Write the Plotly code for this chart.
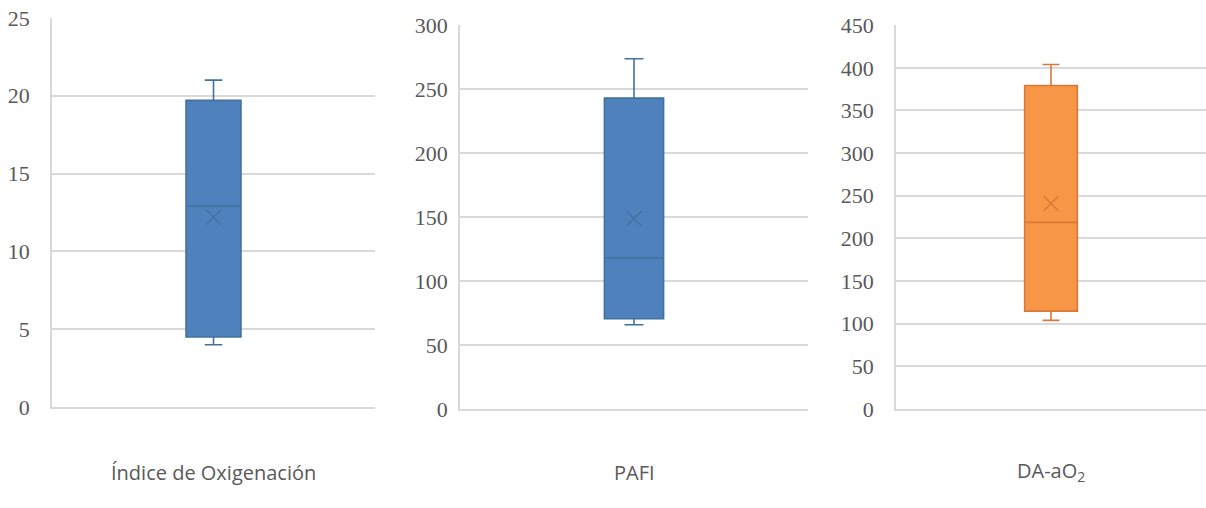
import plotly.graph_objects as go

# Data
categories = ["Índice de Oxigenación", "PAFI", "DA-aO<sub>2</sub>"]
q1 = [4.5, 70.8, 114.8]
median = [12.9, 118.4, 218.8]
q3 = [19.7, 243.2, 379.3]
lower = [4.0, 66.1, 103.9]
upper = [21.0, 274.0, 404.0]
means = [12.2, 149.2, 241.0]
y_max = [25, 300, 450]
y_dtick = [5, 50, 50]

fills = ["#4f81bd", "#4f81bd", "#f79646"]
edges = ["#41719c", "#41719c", "#d9773a"]

W, H = 1206, 508
# pixel layout of each panel: (x_left, x_right, y_top, y_bottom)
panels = [(52, 375, 17.7, 407.0), (460, 808, 25.3, 409.3), (896, 1206, 25.0, 409.0)]

fig = go.Figure()
grid = "#d9d9d9"
tick_font = dict(family="Liberation Serif", size=22, color="#595959")

for i, cat in enumerate(categories):
    xa = "x" if i == 0 else f"x{i+1}"
    ya = "y" if i == 0 else f"y{i+1}"
    fig.add_trace(go.Box(
        x=[cat], q1=[q1[i]], median=[median[i]], q3=[q3[i]],
        lowerfence=[lower[i]], upperfence=[upper[i]],
        fillcolor=fills[i], line=dict(color=edges[i], width=1.6),
        width=0.17, whiskerwidth=0.32, boxpoints=False,
        xaxis=xa, yaxis=ya, showlegend=False,
    ))
    fig.add_trace(go.Scatter(
        x=[cat], y=[means[i]], mode="markers",
        marker=dict(symbol="x-thin", size=15, line=dict(color=edges[i], width=1.3)),
        xaxis=xa, yaxis=ya, showlegend=False,
    ))
    xl, xr, yt, yb = panels[i]
    xkey = "xaxis" if i == 0 else f"xaxis{i+1}"
    ykey = "yaxis" if i == 0 else f"yaxis{i+1}"
    fig.update_layout(**{
        xkey: dict(domain=[xl / W, xr / W], anchor=ya, type="category",
                   range=[-0.5, 0.5], showticklabels=False, ticks="",
                   showgrid=False, zeroline=False, showline=True, automargin=False,
                   linecolor=grid, linewidth=1.6, fixedrange=True),
        ykey: dict(domain=[(H - yb) / H, (H - yt) / H], anchor=xa,
                   range=[0, y_max[i] * 1.0005], dtick=y_dtick[i], tick0=0,
                   showgrid=True, gridcolor=grid, gridwidth=1.6, automargin=False,
                   zeroline=False, showline=True, linecolor=grid, linewidth=1.6,
                   tickfont=tick_font, ticks="", ticklabelstandoff=16 if i != 1 else 6),
    })
    fig.add_annotation(
        x=cat, y=(H - 488) / H, xref=xa, yref="paper", text=cat,
        showarrow=False, font=dict(family="Open Sans", size=20, color="#595959"),
    )

fig.update_layout(
    width=W, height=H, margin=dict(l=0, r=0, t=0, b=0, autoexpand=False),
    paper_bgcolor="white", plot_bgcolor="white",
)

fig.write_html("out.html", config={"displayModeBar": False},
               post_script="document.body.style.margin='0';document.body.style.overflow='hidden';")
